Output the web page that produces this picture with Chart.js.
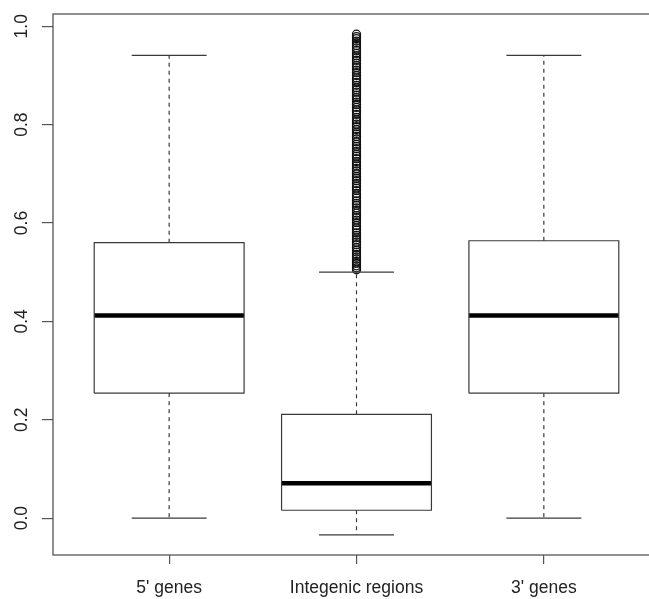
<!DOCTYPE html>
<html>
<head>
<meta charset="utf-8">
<script src="https://cdn.jsdelivr.net/npm/chart.js@4/dist/chart.umd.min.js"></script>
<style>
  html, body { margin: 0; padding: 0; background: #fff; overflow: hidden; }
  #wrap { width: 672px; height: 599px; }
</style>
</head>
<body>
<div id="wrap"><canvas id="boxChart"></canvas></div>
<script>
// groups (R style boxplot)
const categories = ["5' genes", "Integenic regions", "3' genes"];
const whiskerLow  = [0.000, -0.034, 0.000];
const q1Values    = [0.254,  0.016, 0.254];
const medians     = [0.412,  0.071, 0.412];
const q3Values    = [0.560,  0.211, 0.564];
const whiskerHigh = [0.941,  0.500, 0.941];
// outliers of the intergenic group
const outliers2 = [0.505,0.509,0.513,0.518,0.522,0.527,0.531,0.536,0.541,0.545,0.550,0.556,0.561,0.566,0.570,
  0.575,0.580,0.586,0.590,0.595,0.601,0.606,0.611,0.615,0.620,0.626,0.631,0.636,0.640,0.645,0.651,0.655,0.660,
  0.666,0.671,0.675,0.680,0.686,0.691,0.695,0.700,0.706,0.711,0.716,0.720,0.725,0.731,0.736,0.740,0.745,0.751,
  0.756,0.760,0.765,0.771,0.776,0.781,0.785,0.790,0.796,0.801,0.806,0.810,0.815,0.821,0.826,0.830,0.835,0.841,
  0.846,0.851,0.855,0.860,0.866,0.871,0.875,0.880,0.886,0.891,0.895,0.900,0.906,0.911,0.916,0.920,0.925,0.931,
  0.936,0.940,0.945,0.951,0.956,0.961,0.966,0.970,0.975,0.979,0.984];
const yTicks = [0.0, 0.2, 0.4, 0.6, 0.8, 1.0];

const boxHalf = 0.4, capHalf = 0.2;
const lineCol = '#3a3a3a';
const font = { family: "'Liberation Sans', Arial, Helvetica, sans-serif", size: 17.5 };

function seg(x1, y1, x2, y2, extra) {
  return Object.assign({
    type: 'scatter', showLine: true, pointRadius: 0,
    borderColor: lineCol, borderWidth: 1.2,
    data: [{x: x1, y: y1}, {x: x2, y: y2}]
  }, extra || {});
}

const datasets = [];
categories.forEach((name, i) => {
  const c = i + 1;
  // box
  datasets.push({
    type: 'scatter', showLine: true, pointRadius: 0,
    borderColor: lineCol, borderWidth: 1.2, borderJoinStyle: 'miter',
    data: [
      {x: c - boxHalf, y: q1Values[i]}, {x: c + boxHalf, y: q1Values[i]},
      {x: c + boxHalf, y: q3Values[i]}, {x: c - boxHalf, y: q3Values[i]},
      {x: c - boxHalf, y: q1Values[i]}
    ]
  });
  // median
  datasets.push(seg(c - boxHalf, medians[i], c + boxHalf, medians[i], {borderColor: '#000', borderWidth: 4.5, borderCapStyle: 'butt'}));
  // whiskers (dashed) + caps
  datasets.push(seg(c, q3Values[i], c, whiskerHigh[i], {borderDash: [4, 4]}));
  datasets.push(seg(c, q1Values[i], c, whiskerLow[i], {borderDash: [4, 4]}));
  datasets.push(seg(c - capHalf, whiskerHigh[i], c + capHalf, whiskerHigh[i]));
  datasets.push(seg(c - capHalf, whiskerLow[i], c + capHalf, whiskerLow[i]));
});
datasets.push({
  type: 'scatter',
  data: outliers2.map(v => ({x: 2, y: v})),
  pointRadius: 4, pointBorderWidth: 1.3,
  pointBorderColor: '#111', pointBackgroundColor: 'rgba(255,255,255,0)'
});

// frame around plot + rotated y labels like R
const rFrame = {
  id: 'rFrame',
  afterDraw(chart) {
    const ctx = chart.ctx, a = chart.chartArea, ys = chart.scales.y;
    ctx.save();
    ctx.strokeStyle = '#555';
    ctx.lineWidth = 1.3;
    ctx.strokeRect(a.left, a.top, a.right - a.left, a.bottom - a.top);
    ctx.fillStyle = '#222';
    ctx.font = font.size + 'px ' + font.family;
    ctx.textAlign = 'center';
    ctx.textBaseline = 'middle';
    yTicks.forEach(v => {
      ctx.save();
      ctx.translate(22, ys.getPixelForValue(v));
      ctx.rotate(-Math.PI / 2);
      ctx.fillText(v.toFixed(1), 0, 0);
      ctx.restore();
    });
    ctx.restore();
  }
};

new Chart(document.getElementById('boxChart'), {
  type: 'scatter',
  data: { datasets },
  options: {
    responsive: true,
    maintainAspectRatio: false,
    animation: false,
    layout: { padding: { top: 14, right: 12, left: 0, bottom: 0 } },
    plugins: { legend: { display: false }, tooltip: { enabled: false } },
    scales: {
      x: {
        type: 'linear', min: 0.38, max: 3.62,
        afterBuildTicks: s => { s.ticks = [1, 2, 3].map(v => ({value: v})); },
        afterFit: s => { s.height = 44; },
        border: { display: false },
        grid: { drawOnChartArea: false, drawTicks: true, tickLength: 9, color: '#555', lineWidth: 1.2 },
        ticks: { color: '#222', font, padding: 14, maxRotation: 0, autoSkip: false,
                 callback: v => categories[v - 1] }
      },
      y: {
        type: 'linear', min: -0.075, max: 1.025,
        afterBuildTicks: s => { s.ticks = yTicks.map(v => ({value: v})); },
        afterFit: s => { s.width = 53; },
        border: { display: false },
        grid: { drawOnChartArea: false, drawTicks: true, tickLength: 11, color: '#555', lineWidth: 1.2 },
        ticks: { display: false }
      }
    }
  },
  plugins: [rFrame]
});
</script>
</body>
</html>
